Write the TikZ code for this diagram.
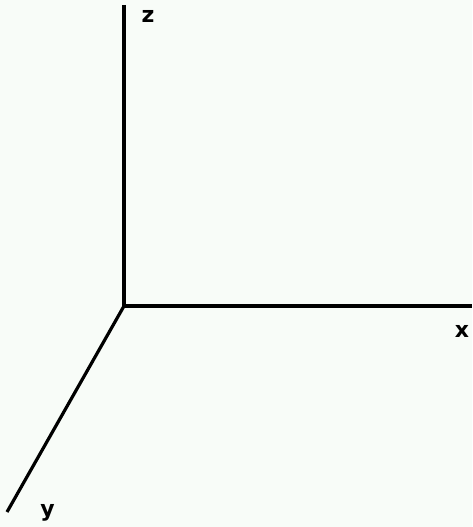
\documentclass[tikz,border=0pt]{standalone}
\usepackage{fontspec}
\setmainfont{DejaVu Sans}
\definecolor{bgc}{HTML}{F8FCF8}
\begin{document}
\begin{tikzpicture}[x=1pt,y=-1pt,
  axis/.style={line width=3.2pt,black},
  lbl/.style={font=\fontsize{22}{22}\selectfont\bfseries,anchor=base,inner sep=0pt}]
\fill[bgc] (0,0) rectangle (472,527);
\useasboundingbox (0,0) rectangle (472,527);
\coordinate (o) at (124,306);
\coordinate (zend) at (124,5);
\coordinate (xend) at (472,306);
\coordinate (yend) at (7,512);
\draw[axis] (zend) -- (o) -- (xend);
\draw[axis] (o) -- (yend);
\node[lbl] (zl) at (148,22.5) {z};
\node[lbl] (xl) at (462,337) {x};
\node[lbl] (yl) at (47.5,516) {y};
\end{tikzpicture}
\end{document}
